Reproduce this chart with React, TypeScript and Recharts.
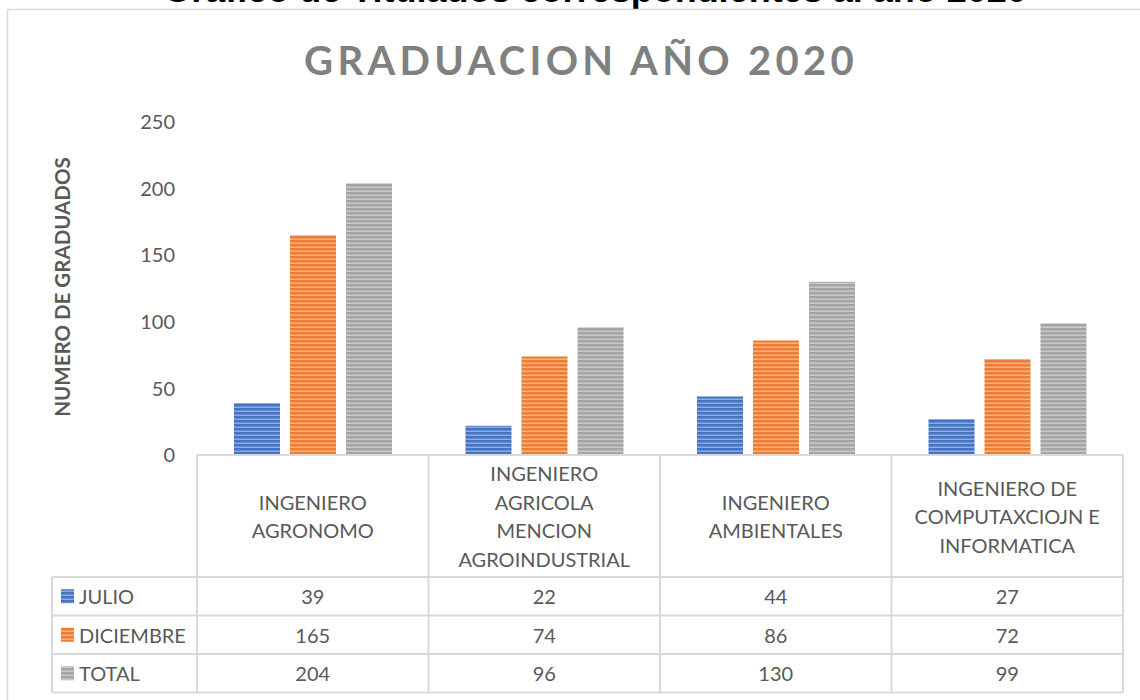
import { BarChart, Bar, XAxis, YAxis } from "recharts";

const categories = [
  ["INGENIERO", "AGRONOMO"],
  ["INGENIERO", "AGRICOLA", "MENCION", "AGROINDUSTRIAL"],
  ["INGENIERO", "AMBIENTALES"],
  ["INGENIERO DE", "COMPUTAXCIOJN E", "INFORMATICA"],
];
const julio = [39, 22, 44, 27];
const diciembre = [165, 74, 86, 72];
const total = [204, 96, 130, 99];
const yTicks = [0, 50, 100, 150, 200, 250];

const series = [
  { key: "julio", label: "JULIO", color: "#4472C4", values: julio },
  { key: "diciembre", label: "DICIEMBRE", color: "#ED7D31", values: diciembre },
  { key: "total", label: "TOTAL", color: "#A5A5A5", values: total },
];

const data = categories.map((lines, i) => ({
  name: lines.join(" "),
  julio: julio[i],
  diciembre: diciembre[i],
  total: total[i],
}));

const FONT = "Lato, 'Open Sans', sans-serif";
const TEXT = "#595959";
const GRID = "#d9d9d9";
const COL_W = 231.5;
const HEADER_H = 122;
const ROW_H = 38.5;
const LEGEND_X = 52;

// eslint-disable-next-line @typescript-eslint/no-explicit-any
function TableTick({ x, y, payload, index }: any) {
  const i = payload.index ?? index;
  const lines = categories[i] || [];
  const left = x - COL_W / 2;
  const right = x + COL_W / 2;
  const bottom = y + HEADER_H + ROW_H * 3;
  const lineH = 28.5;
  const startY = y + HEADER_H / 2 - ((lines.length - 1) * lineH) / 2;
  return (
    <g>
      {lines.map((l, k) => (
        <text
          key={k}
          x={x}
          y={startY + k * lineH}
          textAnchor="middle"
          dominantBaseline="central"
          fontFamily={FONT}
          fontSize={20}
          fill={TEXT}
        >
          {l}
        </text>
      ))}
      {i === 0 && <line x1={left} x2={left} y1={y} y2={bottom} stroke={GRID} strokeWidth={2} />}
      <line x1={right} x2={right} y1={y} y2={bottom} stroke={GRID} strokeWidth={2} />
      {[0, 1, 2, 3].map((r) => (
        <line
          key={r}
          x1={i === 0 ? LEGEND_X : left}
          x2={right}
          y1={y + HEADER_H + r * ROW_H}
          y2={y + HEADER_H + r * ROW_H}
          stroke={GRID}
          strokeWidth={2}
        />
      ))}
      {i === 0 && (
        <line x1={LEGEND_X} x2={LEGEND_X} y1={y + HEADER_H} y2={bottom} stroke={GRID} strokeWidth={2} />
      )}
      {series.map((s, r) => (
        <g key={s.key}>
          <text
            x={x}
            y={y + HEADER_H + r * ROW_H + ROW_H / 2}
            textAnchor="middle"
            dominantBaseline="central"
            fontFamily={FONT}
            fontSize={20}
            fill={TEXT}
          >
            {s.values[i]}
          </text>
          {i === 0 && (
            <g>
              <rect
                x={LEGEND_X + 9}
                y={y + HEADER_H + r * ROW_H + ROW_H / 2 - 7}
                width={13}
                height={14}
                fill={`url(#stripe-${s.key})`}
              />
              <text
                x={LEGEND_X + 27}
                y={y + HEADER_H + r * ROW_H + ROW_H / 2}
                dominantBaseline="central"
                fontFamily={FONT}
                fontSize={20}
                fill={TEXT}
              >
                {s.label}
              </text>
            </g>
          )}
        </g>
      ))}
    </g>
  );
}

export default function App() {
  return (
    <div style={{ position: "absolute", left: 0, top: 0, width: 1140, height: 700, background: "#fff" }}>
      <svg width={1140} height={700} style={{ position: "absolute", left: 0, top: 0 }}>
        <text
          x={595}
          y={2}
          textAnchor="middle"
          fontFamily="'Liberation Sans', Arial, sans-serif"
          fontWeight="bold"
          fontSize={36}
          fill="#000"
        >
          Grafico de Titulados correspondientes al año 2020
        </text>
        <line x1={7} x2={1140} y1={9.5} y2={9.5} stroke={GRID} strokeWidth={1.5} />
        <line x1={7.5} x2={7.5} y1={9} y2={700} stroke={GRID} strokeWidth={1.5} />
        <text
          x={581}
          y={60}
          textAnchor="middle"
          dominantBaseline="central"
          fontFamily={FONT}
          fontWeight="bold"
          fontSize={40}
          letterSpacing={4.3}
          fill="#808080"
        >
          GRADUACION AÑO 2020
        </text>
        <text
          x={0}
          y={0}
          transform="translate(62 287) rotate(-90)"
          textAnchor="middle"
          dominantBaseline="central"
          fontFamily={FONT}
          fontWeight="bold"
          fontSize={20.5}
          fill={TEXT}
        >
          NUMERO DE GRADUADOS
        </text>
      </svg>
      <div style={{ position: "absolute", left: 0, top: 0 }}>
        <BarChart
          width={1140}
          height={700}
          data={data}
          margin={{ top: 122, right: 17, left: 137, bottom: 5 }}
          barCategoryGap={36}
          barGap={10}
        >
          <defs>
            {series.map((s) => (
              <pattern key={s.key} id={`stripe-${s.key}`} width={4} height={4} patternUnits="userSpaceOnUse">
                <rect width={4} height={4} fill={s.color} />
                <rect y={2.5} width={4} height={1.5} fill="#fff" opacity={0.4} />
              </pattern>
            ))}
          </defs>
          <XAxis
            dataKey="name"
            height={240}
            interval={0}
            axisLine={{ stroke: GRID, strokeWidth: 2 }}
            tickLine={false}
            tickSize={0}
            tickMargin={0}
            tick={<TableTick />}
          />
          <YAxis
            width={60}
            domain={[0, 250]}
            ticks={yTicks}
            axisLine={false}
            tickLine={false}
            tickSize={0}
            tickMargin={22}
            tick={{ fontFamily: FONT, fontSize: 20, fill: TEXT }}
          />
          {series.map((s) => (
            <Bar
              key={s.key}
              dataKey={s.key}
              name={s.label}
              fill={`url(#stripe-${s.key})`}
              barSize={46}
              isAnimationActive={false}
            />
          ))}
        </BarChart>
      </div>
    </div>
  );
}
